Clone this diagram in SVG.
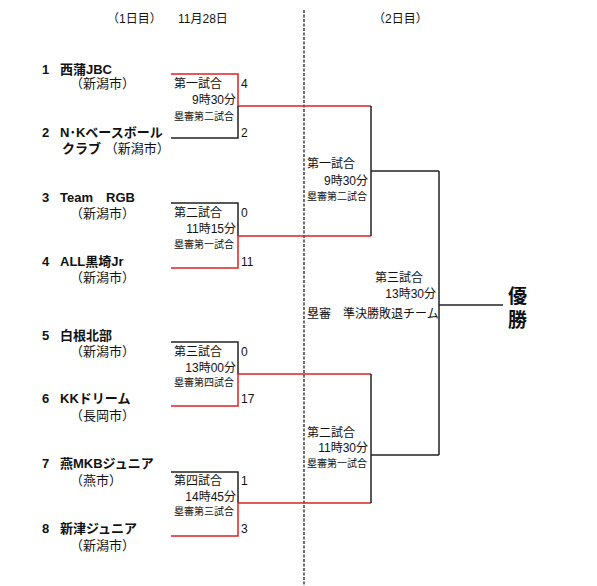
<svg xmlns="http://www.w3.org/2000/svg" width="597" height="586" viewBox="0 0 597 586">
<style>
text{font-family:"Liberation Sans","Noto Sans CJK JP",sans-serif;fill:#111;}
.h{font-size:12px;}
.t{font-size:13px;font-weight:bold;}
.c{font-size:13px;}
.m{font-size:12px;}
.r{font-size:10px;}
.s{font-size:12px;}
.w{font-size:19px;font-weight:bold;}
.e{text-anchor:end;}
.k{stroke:#222;stroke-width:1.5;fill:none;}
.red{stroke:#e02020;stroke-width:1.5;fill:none;}
</style>
<rect width="597" height="586" fill="#fff"/>
<g id="header">
<text class="h" x="107" y="23">（1日目）</text>
<text class="h" x="178" y="23">11月28日</text>
<text class="h" x="373" y="23">（2日目）</text>
</g>
<g id="connectors">
<line x1="304" y1="10" x2="304" y2="586" stroke="#222" stroke-width="1.3" stroke-dasharray="3,1.5"/>
<polyline class="red" points="171,74 238,74 238,106 371,106"/>
<polyline class="k" points="171,138 238,138 238,106"/>
<polyline class="k" points="171,203 238,203 238,236"/>
<polyline class="red" points="171,268 238,268 238,236 371,236"/>
<polyline class="k" points="171,342 238,342 238,374"/>
<polyline class="red" points="171,406 238,406 238,374 371,374"/>
<polyline class="k" points="171,472 238,472 238,503"/>
<polyline class="red" points="171,536 238,536 238,503 371,503"/>
<polyline class="k" points="371,106 371,236"/>
<polyline class="k" points="371,171 439,171"/>
<polyline class="k" points="371,374 371,503"/>
<polyline class="k" points="371,455 439,455"/>
<polyline class="k" points="439,171 439,455"/>
<polyline class="k" points="439,305 503,305"/>
</g>
<g id="team1"><text class="t" x="42" y="74">1</text><text class="t" x="60" y="74">西蒲JBC</text><text class="c" x="70" y="88">（新潟市）</text></g>
<g id="team2"><text class="t" x="42" y="137">2</text><text class="t" x="60" y="137">N･Kベースボール</text><text class="c" x="62" y="153"><tspan font-weight="bold">クラブ</tspan> （新潟市）</text></g>
<g id="team3"><text class="t" x="42" y="202">3</text><text class="t" x="60" y="202">Team　RGB</text><text class="c" x="70" y="218">（新潟市）</text></g>
<g id="team4"><text class="t" x="42" y="266">4</text><text class="t" x="60" y="266">ALL黒埼Jr</text><text class="c" x="70" y="282">（新潟市）</text></g>
<g id="team5"><text class="t" x="42" y="340">5</text><text class="t" x="60" y="340">白根北部</text><text class="c" x="70" y="356">（新潟市）</text></g>
<g id="team6"><text class="t" x="42" y="403">6</text><text class="t" x="60" y="403">KKドリーム</text><text class="c" x="70" y="420">（長岡市）</text></g>
<g id="team7"><text class="t" x="42" y="468">7</text><text class="t" x="60" y="468">燕MKBジュニア</text><text class="c" x="70" y="485">（燕市）</text></g>
<g id="team8"><text class="t" x="42" y="533">8</text><text class="t" x="60" y="533">新津ジュニア</text><text class="c" x="70" y="550">（新潟市）</text></g>
<g id="match1"><text class="m" x="174" y="88">第一試合</text><text class="m e" x="236" y="104">9時30分</text><text class="r" x="174" y="120">塁審第二試合</text><text class="s" x="241" y="88">4</text><text class="s" x="241" y="137">2</text></g>
<g id="match2"><text class="m" x="174" y="217">第二試合</text><text class="m e" x="236" y="233">11時15分</text><text class="r" x="174" y="248">塁審第一試合</text><text class="s" x="241" y="217">0</text><text class="s" x="241" y="266">11</text></g>
<g id="match3"><text class="m" x="174" y="356">第三試合</text><text class="m e" x="236" y="372">13時00分</text><text class="r" x="174" y="386">塁審第四試合</text><text class="s" x="241" y="356">0</text><text class="s" x="241" y="403">17</text></g>
<g id="match4"><text class="m" x="174" y="485">第四試合</text><text class="m e" x="236" y="501">14時45分</text><text class="r" x="174" y="515">塁審第三試合</text><text class="s" x="241" y="485">1</text><text class="s" x="241" y="533">3</text></g>
<g id="semi1"><text class="m" x="307" y="168">第一試合</text><text class="m e" x="368" y="185">9時30分</text><text class="r" x="307" y="200">塁審第二試合</text></g>
<g id="semi2"><text class="m" x="307" y="437">第二試合</text><text class="m e" x="368" y="452">11時30分</text><text class="r" x="307" y="467">塁審第一試合</text></g>
<g id="final"><text class="m" x="375" y="282">第三試合</text><text class="m e" x="436" y="298">13時30分</text><text class="m" x="307" y="318" font-size="10.5">塁審　準決勝敗退チーム</text></g>
<g id="winner"><text class="w" x="508" y="303">優</text><text class="w" x="508" y="327">勝</text></g>
</svg>
